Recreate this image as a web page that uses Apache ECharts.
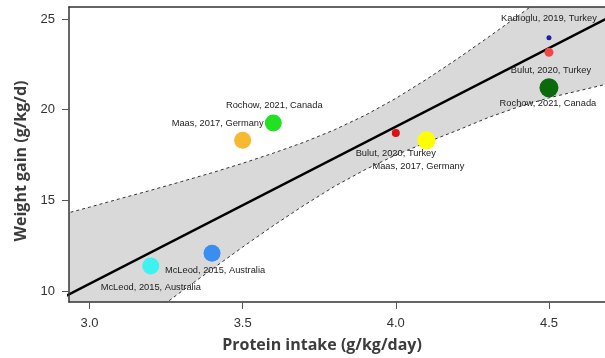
<!DOCTYPE html>
<html><head><meta charset="utf-8">
<script src="https://cdn.jsdelivr.net/npm/echarts@6/dist/echarts.min.js"></script>
<style>html,body{margin:0;padding:0;background:#fff}#c{width:605px;height:358px}</style>
</head><body><div id="c"></div>
<script>
// ---- data ----
const studyNames = ["Kadıoglu, 2019, Turkey","Bulut, 2020, Turkey","Rochow, 2021, Canada","Bulut, 2020, Turkey","Maas, 2017, Germany","Maas, 2017, Germany","Rochow, 2021, Canada","McLeod, 2015, Australia","McLeod, 2015, Australia"];
const proteinIntake = [4.5, 4.5, 4.5, 4.0, 4.1, 3.5, 3.6, 3.4, 3.2];
const weightGain = [23.97, 23.16, 21.21, 18.71, 18.31, 18.31, 19.26, 12.08, 11.38];
const fitX = [2.9, 4.7];
const fitY = [9.53, 25.12];
const bandX = [2.9, 3.0, 3.1, 3.2, 3.3, 3.4, 3.5, 3.6, 3.7, 3.8, 3.9, 4.0, 4.1, 4.2, 4.3, 4.4, 4.5, 4.6, 4.7];
const bandUpper = [14.17, 14.62, 15.09, 15.55, 16.03, 16.52, 17.04, 17.6, 18.2, 18.89, 19.69, 20.62, 21.67, 22.79, 23.97, 25.18, 26.42, 27.68, 28.94];
const bandLower = [4.89, 6.18, 7.45, 8.71, 9.97, 11.2, 12.42, 13.6, 14.72, 15.77, 16.69, 17.5, 18.19, 18.85, 19.55, 20.15, 20.65, 21.05, 21.45];
const xTicks = [3.0, 3.5, 4.0, 4.5];
const yTicks = [10, 15, 20, 25];

// ---- styles (not data) ----
const pointStyle = [
  {color:'#1e1ea8', size:5,  off:[0,-19]},
  {color:'#f04848', size:9,  off:[2,18]},
  {color:'#0b6a0b', size:19, off:[-1,16]},
  {color:'#dd1111', size:8,  off:[0,20]},
  {color:'#ffff00', size:18, off:[-8,26]},
  {color:'#f7b832', size:17, off:[-25,-17]},
  {color:'#22e022', size:17, off:[1,-18]},
  {color:'#3a8ef0', size:17, off:[3,17]},
  {color:'#3ef2f0', size:17, off:[0,22]}
];

const chart = echarts.init(document.getElementById('c'));
const pair = (xs, ys) => xs.map((x, i) => [x, ys[i]]);
const labelFont = {fontFamily:'Liberation Sans', fontSize:9.3, color:'#222'};

chart.setOption({
  animation:false,
  backgroundColor:'#fff',
  grid:{left:69, top:7, bottom:56, right:-10},
  xAxis:[{
    type:'value', min:2.933, max:4.683, z:10,
    axisLine:{show:true, lineStyle:{color:'#333', width:1.5}},
    axisTick:{show:true, length:7, customValues:xTicks, lineStyle:{color:'#555'}},
    axisLabel:{customValues:xTicks, margin:15, fontFamily:'Liberation Sans', fontSize:13, color:'#333', formatter:v=>v.toFixed(1)},
    splitLine:{show:false}
  },{
    type:'value', position:'top', min:2.933, max:4.683, z:10,
    axisLine:{show:true, lineStyle:{color:'#333', width:1.5}},
    axisTick:{show:false}, axisLabel:{show:false}, splitLine:{show:false}
  }],
  yAxis:{
    type:'value', min:9.39, max:25.66, z:10,
    axisLine:{show:true, lineStyle:{color:'#333', width:1.5}},
    axisTick:{show:true, length:7, customValues:yTicks, lineStyle:{color:'#555'}},
    axisLabel:{customValues:yTicks, margin:14, fontFamily:'Liberation Sans', fontSize:13, color:'#333'},
    splitLine:{show:false}
  },
  graphic:[
    {type:'text', x:322, y:345, z:20, style:{text:'Protein intake (g/kg/day)', font:'bold 16px "Open Sans"', fill:'#3c3c3c', textAlign:'center', textVerticalAlign:'middle'}},
    {type:'text', x:21, y:161, rotation:Math.PI/2, z:20, style:{text:'Weight gain (g/kg/d)', font:'bold 16px "Open Sans"', fill:'#3c3c3c', textAlign:'center', textVerticalAlign:'middle'}}
  ],
  series:[
    {type:'line', data:pair(bandX, bandUpper), symbol:'none', clip:true, z:1,
     lineStyle:{width:0}, areaStyle:{color:'#d9d9d9', opacity:1, origin:'start'}},
    {type:'line', data:pair(bandX, bandLower), symbol:'none', clip:true, z:1,
     lineStyle:{width:0}, areaStyle:{color:'#ffffff', opacity:1, origin:'start'}},
    {type:'line', data:pair(bandX, bandUpper), symbol:'none', clip:true, z:3,
     lineStyle:{color:'#333', width:1, type:[3,3]}},
    {type:'line', data:pair(bandX, bandLower), symbol:'none', clip:true, z:3,
     lineStyle:{color:'#333', width:1, type:[3,3]}},
    {type:'line', data:pair(fitX, fitY), symbol:'none', clip:true, z:4,
     lineStyle:{color:'#000', width:2.5}},
    {type:'scatter', z:5,
     data:proteinIntake.map((x, i) => ({
       value:[x, weightGain[i]], name:studyNames[i],
       symbolSize:pointStyle[i].size,
       itemStyle:{color:pointStyle[i].color, opacity:1},
       label:{show:true, position:'inside', offset:pointStyle[i].off, formatter:studyNames[i], ...labelFont}
     }))}
  ]
});
</script></body></html>
